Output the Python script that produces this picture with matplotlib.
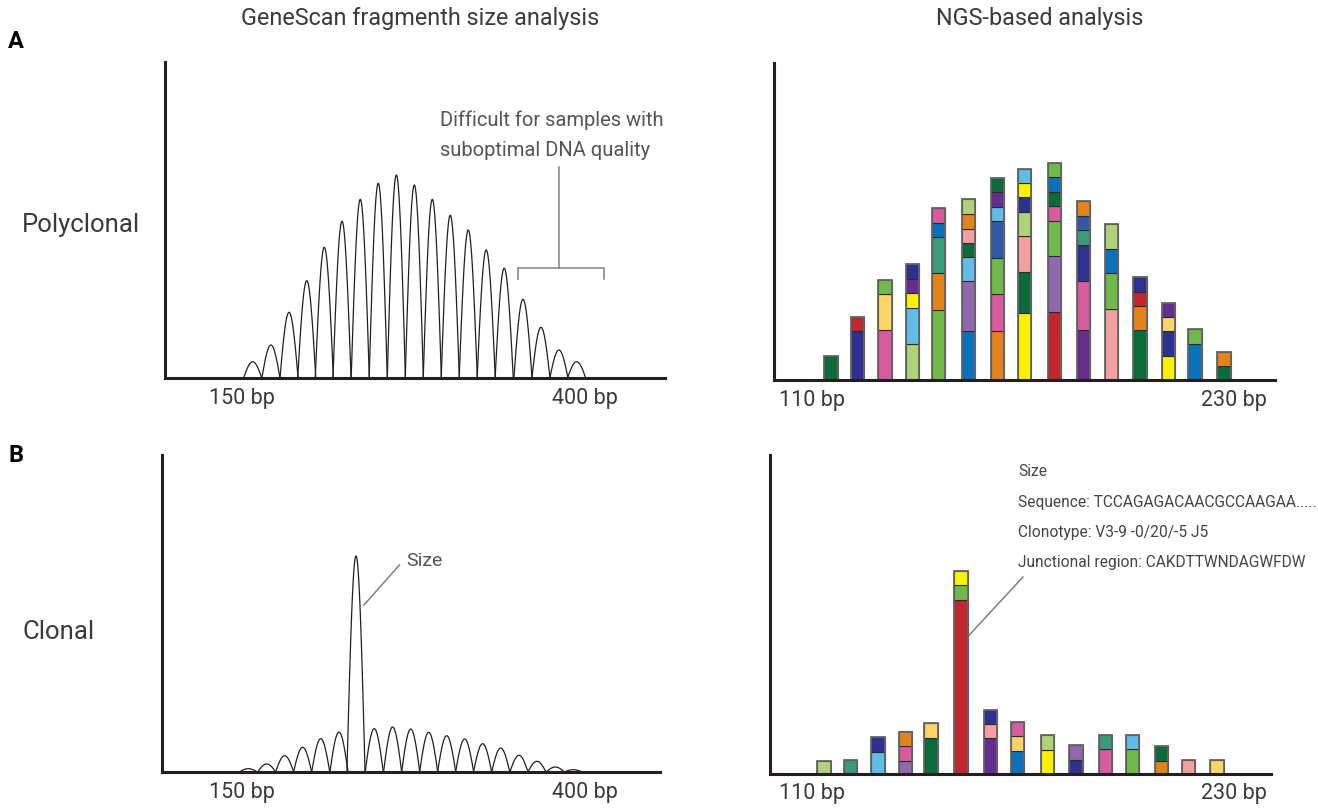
import numpy as np
import matplotlib.pyplot as plt

plt.rcParams['font.family'] = ['Roboto', 'DejaVu Sans']

W, H = 1318, 811          # output size in pixels
INK = '#231f20'
TXT = '#3a3a3a'
GREY = '#808080'

### GeneScan peaks: centre (bp) and height (axis units = px)
poly_peak_bp = [157.8, 171.1, 184.3, 197.2, 210.0, 222.9, 236.2, 249.3, 262.5, 275.6,
                288.7, 301.8, 314.9, 328.0, 341.1, 354.8, 367.9, 381.0, 393.9]
poly_peak_h = [16.3, 33.0, 65.7, 97.3, 130.7, 156.7, 178.7, 194.7, 203.0, 193.0,
               178.7, 162.7, 148.0, 128.0, 109.7, 78.7, 50.7, 28.0, 16.3]

clon_peak_bp = [154.6, 168.0, 181.1, 194.2, 207.4, 220.7, 233.1, 246.4, 259.8, 273.0,
                286.1, 299.2, 312.3, 325.4, 338.6, 351.9, 365.0, 378.4, 391.5]
clon_peak_h = [3.3, 8.0, 16.3, 24.7, 33.3, 40.0, 216.0, 43.3, 45.0, 43.0,
               39.7, 36.3, 33.0, 28.3, 24.0, 16.7, 10.7, 5.0, 2.3]

### NGS stacked bars: position (bp), segments bottom->top as (colour, height)
palette = {
    'dgreen': '#0b6b3a', 'navy': '#2e3192', 'red': '#c1272d', 'pink': '#d85a9f',
    'lorange': '#fdd467', 'green': '#6fba4a', 'lgreen': '#afd27a', 'lblue': '#62bce8',
    'yellow': '#fff100', 'purple': '#662d91', 'orange': '#e2841a', 'teal': '#3a9b7b',
    'blue': '#0a72ba', 'lav': '#9068ae', 'salmon': '#f4a0a0', 'mblue': '#3159a8',
}

poly_bar_bp = [115.4, 122.9, 130.8, 138.6, 145.9, 154.4, 162.7, 170.4,
               179.0, 187.1, 195.2, 203.2, 211.3, 218.9, 227.1]
poly_bar_segs = [
    [('dgreen', 24.3)],
    [('navy', 49.0), ('red', 14.3)],
    [('pink', 49.7), ('lorange', 36.0), ('green', 14.6)],
    [('lgreen', 36.0), ('lblue', 36.3), ('yellow', 14.4), ('purple', 14.6), ('navy', 14.4)],
    [('green', 70.0), ('orange', 36.7), ('teal', 36.0), ('blue', 14.6), ('pink', 14.4)],
    [('blue', 49.3), ('lav', 49.7), ('lblue', 24.3), ('dgreen', 14.0), ('salmon', 14.0),
     ('orange', 14.7), ('lgreen', 14.7)],
    [('orange', 49.3), ('pink', 36.4), ('green', 36.6), ('mblue', 36.7), ('lblue', 14.3),
     ('purple', 14.4), ('dgreen', 14.3)],
    [('yellow', 66.7), ('dgreen', 41.0), ('salmon', 36.6), ('lgreen', 24.0), ('navy', 14.4),
     ('yellow', 14.3), ('lblue', 14.3)],
    [('red', 67.7), ('lav', 56.6), ('green', 35.0), ('pink', 14.7), ('dgreen', 14.3),
     ('blue', 14.4), ('green', 14.6)],
    [('purple', 49.7), ('pink', 49.3), ('navy', 36.0), ('teal', 15.0), ('mblue', 14.3),
     ('orange', 14.4)],
    [('salmon', 70.7), ('green', 36.6), ('blue', 24.0), ('lgreen', 24.4)],
    [('dgreen', 49.7), ('orange', 24.3), ('red', 14.0), ('navy', 14.7)],
    [('yellow', 24.3), ('navy', 24.7), ('lorange', 13.7), ('purple', 14.6)],
    [('blue', 36.0), ('green', 14.7)],
    [('dgreen', 13.7), ('orange', 14.6)],
]

clon_bar_bp = [113.5, 121.0, 128.8, 136.7, 143.9, 152.4, 160.8, 168.5,
               177.0, 185.1, 193.4, 201.2, 209.3, 217.1, 225.2]
clon_bar_segs = [
    [('lgreen', 13.0)],
    [('teal', 13.3)],
    [('lblue', 22.0), ('navy', 14.6)],
    [('lav', 13.0), ('pink', 14.3), ('orange', 14.7)],
    [('dgreen', 36.0), ('lorange', 14.3)],
    [('red', 174.0), ('green', 14.3), ('yellow', 14.3)],
    [('purple', 35.3), ('salmon', 14.3), ('navy', 14.4)],
    [('blue', 23.0), ('lorange', 14.3), ('pink', 14.3)],
    [('yellow', 23.5), ('lgreen', 14.6)],
    [('navy', 14.0), ('lav', 14.7)],
    [('pink', 24.5), ('teal', 14.3)],
    [('green', 24.5), ('lblue', 14.3)],
    [('orange', 12.5), ('dgreen', 14.6)],
    [('salmon', 14.0)],
    [('lorange', 14.0)],
]

gs_ticks = [150, 400]
gs_ticklabels = ['150 bp', '400 bp']
ngs_ticks = [110, 230]
ngs_ticklabels = ['110 bp', '230 bp']

clone_info = ['Size',
              'Sequence: TCCAGAGACAACGCCAAGAA.....',
              'Clonotype: V3-9 -0/20/-5 J5',
              'Junctional region: CAKDTTWNDAGWFDW']


def px_axes(fig, x0, y0, x1, y1):
    """axes from pixel box (left, top, right, bottom)"""
    ax = fig.add_axes([x0/W, 1 - y1/H, (x1 - x0)/W, (y1 - y0)/H])
    ax.set_ylim(0, y1 - y0)
    for s in ['top', 'right']:
        ax.spines[s].set_visible(False)
    for s in ['left', 'bottom']:
        ax.spines[s].set_linewidth(2.2)
        ax.spines[s].set_color(INK)
        ax.spines[s].set_zorder(5)
    ax.set_yticks([])
    ax.tick_params(axis='x', length=0, pad=7, labelsize=15.5, labelcolor=TXT)
    return ax


def draw_peaks(ax, centres, heights, hw=6.6):
    t = np.linspace(0, 1, 80)
    for c, h in zip(centres, heights):
        ax.plot(c - hw + 2*hw*t, h*np.sin(np.pi*t), color=INK, lw=0.9)


def draw_stacks(ax, xs, stacks, width=3.8):
    for x, segs in zip(xs, stacks):
        bottom = 0
        for key, h in segs:
            ax.bar(x, h, bottom=bottom, width=width, color=palette[key],
                   edgecolor='#2b2b2b', linewidth=0.8, zorder=2)
            bottom += h
        ax.bar(x, bottom, width=width, fill=False, edgecolor='#666666',
               linewidth=1.3, zorder=3)


fig = plt.figure(figsize=(W/100, H/100), dpi=100)

### A: polyclonal
ax = px_axes(fig, 165, 62, 665, 378)
ax.set_xlim(93.9, 458.3)
draw_peaks(ax, poly_peak_bp, poly_peak_h)
ax.set_xticks(gs_ticks, gs_ticklabels)
ax.plot([381.0, 381.0], [211, 109.7], color=GREY, lw=1.1)
ax.plot([351.4, 351.4, 414.1, 414.1], [99, 109.7, 109.7, 99], color=GREY, lw=1.1)
ax.text(294.3, 258, 'Difficult for samples with', fontsize=14.5, color='#555555',
        va='center', ha='left')
ax.text(294.3, 228, 'suboptimal DNA quality', fontsize=14.5, color='#555555',
        va='center', ha='left')

ax = px_axes(fig, 774, 63, 1275, 380)
ax.set_xlim(99.2, 241.6)
draw_stacks(ax, poly_bar_bp, poly_bar_segs)
ax.set_xticks(ngs_ticks, ngs_ticklabels)

### B: clonal
ax = px_axes(fig, 162, 455, 660, 772)
ax.set_xlim(91.7, 454.7)
draw_peaks(ax, clon_peak_bp, clon_peak_h)
ax.set_xticks(gs_ticks, gs_ticklabels)
ax.plot([238.9, 264.7], [167, 207], color=GREY, lw=1.1)
ax.text(269.5, 211, 'Size', fontsize=14, color='#555555', va='center', ha='left')

ax = px_axes(fig, 770, 455, 1271, 773.5)
ax.set_xlim(98.1, 240.5)
draw_stacks(ax, clon_bar_bp, clon_bar_segs)
ax.set_xticks(ngs_ticks, ngs_ticklabels)
ax.plot([154.3, 170.0], [136.8, 196.5], color=GREY, lw=1.1)
for i, line in enumerate(clone_info):
    ax.text(168.6, 301.5 - 30*i, line, fontsize=11.2, color='#444444',
            va='center', ha='left', clip_on=False)

### titles and row labels
fig.text(420/W, 1 - 18/H, 'GeneScan fragmenth size analysis', fontsize=16.8, color=TXT,
         ha='center', va='center')
fig.text(1040/W, 1 - 18/H, 'NGS-based analysis', fontsize=16.8, color=TXT,
         ha='center', va='center')
fig.text(22/W, 1 - 225/H, 'Polyclonal', fontsize=18.5, color=TXT, ha='left', va='center')
fig.text(22/W, 1 - 632/H, 'Clonal', fontsize=18.5, color=TXT, ha='left', va='center')
fig.text(16/W, 1 - 42/H, 'A', fontsize=17, fontweight='bold', color='black',
         ha='center', va='center')
fig.text(16/W, 1 - 455/H, 'B', fontsize=17, fontweight='bold', color='black',
         ha='center', va='center')

fig.savefig('out.png', dpi=100)
